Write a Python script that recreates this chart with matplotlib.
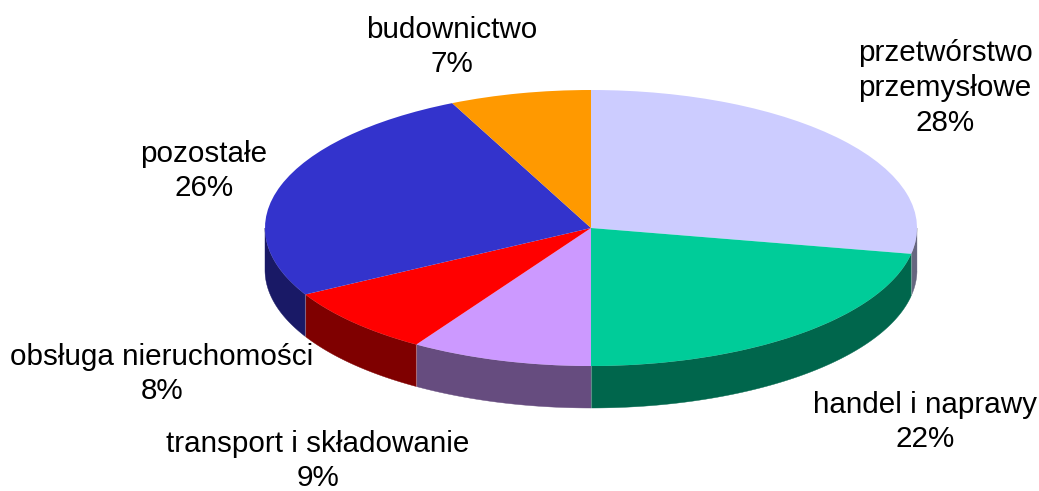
import numpy as np
import matplotlib
matplotlib.use("Agg")
import matplotlib.pyplot as plt
from matplotlib.patches import Polygon

plt.rcParams['font.family'] = ['Liberation Sans', 'DejaVu Sans']

W, H = 1039, 491
categories = ['przetwórstwo\nprzemysłowe', 'handel i naprawy', 'transport i składowanie',
              'obsługa nieruchomości', 'pozostałe', 'budownictwo']
values = [28, 22, 9, 8, 26, 7]
top_colors = ['#CCCCFF', '#00CC99', '#CC99FF', '#FF0000', '#3333CC', '#FF9900']
side_colors = ['#66667F', '#00664C', '#664C7F', '#7F0000', '#191966', '#7F4C00']
label_x = [945, 925, 318, 162, 204, 452]
label_y = [88, 422, 461, 374, 171, 47]

CX, CY, RX, RY, DEPTH = 591, 228, 326, 138, 42

fig = plt.figure(figsize=(W / 100, H / 100), dpi=100, facecolor='white')
ax = fig.add_axes([0, 0, 1, 1])
ax.set_xlim(0, W)
ax.set_ylim(H, 0)
ax.axis('off')

fractions = np.array(values, dtype=float) / sum(values)
edges = np.concatenate([[0], np.cumsum(fractions)]) * 2 * np.pi  # clockwise from top

# Side walls: only the front half of the rim is visible
for i, col in enumerate(side_colors):
    a0 = max(edges[i], np.pi / 2)
    a1 = min(edges[i + 1], 3 * np.pi / 2)
    if a1 <= a0:
        continue
    t = np.linspace(a0, a1, 200)
    x = CX + RX * np.sin(t)
    y = CY - RY * np.cos(t)
    pts = np.r_[np.c_[x, y], np.c_[x[::-1], y[::-1] + DEPTH]]
    ax.add_patch(Polygon(pts, closed=True, fc=col, ec=col, lw=0.3, zorder=1))
    # faint seam at the start of each visible wall
    ax.plot([x[0], x[0]], [y[0], y[0] + DEPTH], color='white', alpha=0.3, lw=0.8, zorder=2)

# Top face: a real pie, stretched into an ellipse by its own axes
pie_ax = fig.add_axes([(CX - RX) / W, 1 - (CY + RY) / H, 2 * RX / W, 2 * RY / H])
pie_ax.pie(values, colors=top_colors, startangle=90, counterclock=False,
           radius=1, frame=False, wedgeprops=dict(linewidth=0))
pie_ax.set_aspect('auto')
pie_ax.set_xlim(-1, 1)
pie_ax.set_ylim(-1, 1)
pie_ax.axis('off')
pie_ax.patch.set_alpha(0)

for name, v, lx, ly in zip(categories, values, label_x, label_y):
    ax.text(lx, ly, f'{name}\n{v}%', ha='center', va='center', fontsize=21.3,
            color='black', linespacing=1.3, zorder=5)

fig.savefig('out.png', dpi=100)
